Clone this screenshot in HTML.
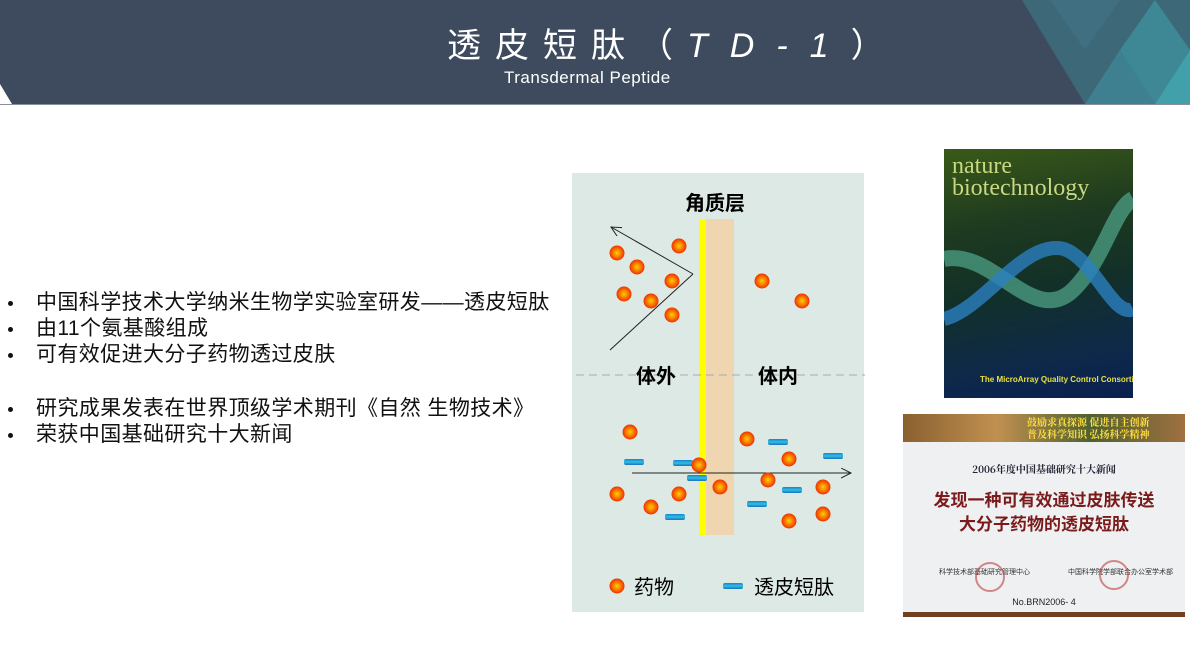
<!DOCTYPE html>
<html><head><meta charset="utf-8"><style>
body{margin:0;width:1190px;height:660px;background:#fff;position:relative;overflow:hidden;font-family:"Liberation Sans","Noto Sans CJK SC",sans-serif}
.abs{position:absolute}
.bl{position:absolute;left:0;font-size:21px;color:#111;white-space:nowrap;height:26px;line-height:26px}
.bl b{position:absolute;left:8px;top:11px;width:5px;height:5px;background:#111;border-radius:50%}
.bl span{position:absolute;left:36px;top:0;letter-spacing:0.4px}
</style></head><body>
<svg class="abs" style="left:0;top:0" width="1190" height="106">
<polygon points="0,0 1190,0 1190,104 12,104 0,84" fill="#3e4a5e"/>
<polygon points="1022,0 1190,0 1190,104 1085,104" fill="#3d6878"/>
<polygon points="1085,104 1120,50 1155,104" fill="#3e8090"/>
<polygon points="1120,50 1155,0 1190,50 1155,104" fill="#3e8896"/>
<polygon points="1155,104 1190,50 1190,104" fill="#41a0aa"/>
<polygon points="1050,0 1085,50 1120,0" fill="#3f6f80"/>
<line x1="0" y1="104.5" x2="1190" y2="104.5" stroke="#8890a0"/>
</svg>
<div class="abs" style="left:447px;top:18px;color:#fff;font-size:34px;letter-spacing:14px;white-space:nowrap">透皮短肽（<i style="letter-spacing:22px">TD-1</i>）</div>
<div class="abs" style="left:504px;top:68px;color:#fff;font-size:17px;letter-spacing:0.5px">Transdermal Peptide</div>

<div class="bl" style="top:290px"><b></b><span>中国科学技术大学纳米生物学实验室研发——透皮短肽</span></div>
<div class="bl" style="top:316px"><b></b><span>由11个氨基酸组成</span></div>
<div class="bl" style="top:342px"><b></b><span>可有效促进大分子药物透过皮肤</span></div>
<div class="bl" style="top:396px"><b></b><span>研究成果发表在世界顶级学术期刊《自然 生物技术》</span></div>
<div class="bl" style="top:422px"><b></b><span>荣获中国基础研究十大新闻</span></div>

<svg class="abs" style="left:0;top:0" width="1190" height="660">
<defs>
<radialGradient id="g" cx="0.5" cy="0.5" r="0.5"><stop offset="0" stop-color="#ffd000"/><stop offset="1" stop-color="#f03000"/></radialGradient>
<linearGradient id="p" x1="0" y1="0" x2="0" y2="1"><stop offset="0" stop-color="#1a7fd0"/><stop offset="0.5" stop-color="#30c0e0"/><stop offset="1" stop-color="#1a70c0"/></linearGradient>
<marker id="a" markerWidth="12" markerHeight="12" refX="10" refY="5" orient="auto" markerUnits="userSpaceOnUse"><path d="M0,0 L10,5 L0,10" fill="none" stroke="#222" stroke-width="1"/></marker>
</defs>
<rect x="572" y="173" width="292" height="439" fill="#dde9e4"/>
<rect x="699" y="219" width="7" height="316" fill="#ffff00"/>
<rect x="706" y="219" width="28" height="316" fill="#efd5b0"/>
<line x1="576" y1="375" x2="865" y2="375" stroke="#aaa" stroke-dasharray="8,5"/>
<line x1="693" y1="274" x2="611" y2="227" stroke="#222" marker-end="url(#a)"/>
<line x1="693" y1="274" x2="610" y2="350" stroke="#222"/>
<line x1="632" y1="473" x2="851" y2="473" stroke="#222" marker-end="url(#a)"/>
<g fill="url(#g)">
<circle cx="617" cy="253" r="7.5"/><circle cx="679" cy="246" r="7.5"/><circle cx="637" cy="267" r="7.5"/><circle cx="672" cy="281" r="7.5"/><circle cx="624" cy="294" r="7.5"/><circle cx="651" cy="301" r="7.5"/><circle cx="672" cy="315" r="7.5"/><circle cx="762" cy="281" r="7.5"/><circle cx="802" cy="301" r="7.5"/>
<circle cx="630" cy="432" r="7.5"/><circle cx="747" cy="439" r="7.5"/><circle cx="789" cy="459" r="7.5"/><circle cx="768" cy="480" r="7.5"/><circle cx="720" cy="487" r="7.5"/><circle cx="617" cy="494" r="7.5"/><circle cx="679" cy="494" r="7.5"/><circle cx="823" cy="487" r="7.5"/><circle cx="651" cy="507" r="7.5"/><circle cx="823" cy="514" r="7.5"/><circle cx="789" cy="521" r="7.5"/>
<circle cx="617" cy="586" r="7.5"/>
</g>
<g fill="url(#p)">
<rect x="624" y="459" width="20" height="6" rx="2"/><rect x="673" y="460" width="20" height="6" rx="2"/><rect x="687" y="475" width="20" height="6" rx="2"/><rect x="768" y="439" width="20" height="6" rx="2"/><rect x="823" y="453" width="20" height="6" rx="2"/><rect x="782" y="487" width="20" height="6" rx="2"/><rect x="747" y="501" width="20" height="6" rx="2"/><rect x="665" y="514" width="20" height="6" rx="2"/>
<rect x="723" y="583" width="20" height="6" rx="2"/>
</g>
<circle cx="699" cy="465" r="7.5" fill="url(#g)"/>
<g font-family="Liberation Sans,Noto Sans CJK SC,sans-serif" fill="#000">
<text x="715" y="210" font-size="20" font-weight="bold" text-anchor="middle">角质层</text>
<text x="656" y="383" font-size="20" font-weight="bold" text-anchor="middle">体外</text>
<text x="778" y="383" font-size="20" font-weight="bold" text-anchor="middle">体内</text>
<text x="634" y="594" font-size="20">药物</text>
<text x="754" y="594" font-size="20">透皮短肽</text>
</g>
</svg>

<div class="abs" style="left:944px;top:149px;width:189px;height:249px;background:linear-gradient(170deg,#3a5a18 0%,#1e3a20 30%,#123028 55%,#0e2a48 80%,#0a2050 100%);overflow:hidden">
<svg class="abs" style="left:0;top:0" width="189" height="249">
<path d="M0,110 C50,100 90,180 130,140 C160,110 170,60 189,50" stroke="#4a9a80" stroke-width="16" fill="none" opacity="0.8"/>
<path d="M0,170 C40,160 80,90 120,100 C150,110 170,170 189,160" stroke="#2a80c0" stroke-width="14" fill="none" opacity="0.8"/>
</svg>
<div class="abs" style="left:8px;top:6px;font-family:'Liberation Serif',serif;color:#c8d880;font-size:24px;line-height:22px">nature<br>biotechnology</div>
<div class="abs" style="left:36px;top:226px;font-size:8px;color:#e8e040;font-weight:bold;white-space:nowrap">The MicroArray Quality Control Consortium</div>
</div>

<div class="abs" style="left:903px;top:414px;width:282px;height:203px;background:#eef0f2">
<div class="abs" style="left:0;top:0;width:282px;height:28px;background:linear-gradient(90deg,#8a6030,#c09050,#506030,#a07040)"></div>
<div class="abs" style="left:124px;top:2px;font-size:10px;color:#ffe040;font-weight:bold;line-height:12px;white-space:nowrap;font-family:'Noto Serif CJK SC',serif">鼓励求真探源 促进自主创新<br>普及科学知识 弘扬科学精神</div>
<div class="abs" style="left:0;top:47px;width:282px;text-align:center;font-size:10px;font-weight:bold;color:#223;font-family:'Noto Serif CJK SC',serif">2006年度中国基础研究十大新闻</div>
<div class="abs" style="left:0;top:75px;width:282px;text-align:center;font-size:17px;font-weight:bold;color:#7a1a1a;line-height:24px">发现一种可有效通过皮肤传送<br>大分子药物的透皮短肽</div>
<div class="abs" style="left:36px;top:153px;font-size:7px;color:#333">科学技术部基础研究管理中心</div>
<div class="abs" style="left:165px;top:153px;font-size:7px;color:#333">中国科学院学部联合办公室学术部</div>
<div class="abs" style="left:72px;top:148px;width:26px;height:26px;border:2px solid #c04040;border-radius:50%;opacity:.6"></div>
<div class="abs" style="left:196px;top:146px;width:26px;height:26px;border:2px solid #c04040;border-radius:50%;opacity:.6"></div>
<div class="abs" style="left:0;top:183px;width:282px;text-align:center;font-size:9px;color:#222">No.BRN2006- 4</div>
<div class="abs" style="left:0;top:198px;width:282px;height:5px;background:#704020"></div>
</div>
</body></html>
